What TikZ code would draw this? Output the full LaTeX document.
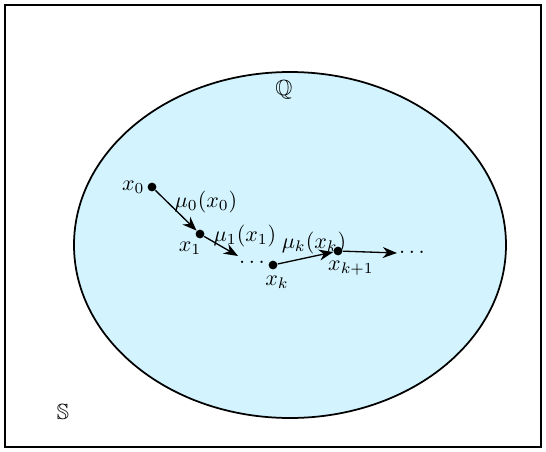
\documentclass[tikz,border=0pt]{standalone}
\usepackage{amssymb}
\usepackage{tikz}
\usetikzlibrary{arrows.meta}
\definecolor{setFill}{HTML}{D3F4FE}

\begin{document}
\begin{tikzpicture}[
    x=0.016cm, y=-0.016cm,
    iterpt/.style={circle, fill=black, inner sep=0pt, minimum size=4pt},
    iterlbl/.style={inner sep=1pt},
    step arr/.style={-{Stealth[length=6.5pt,width=5pt]}, semithick},
]
\useasboundingbox (0,0) rectangle (546,452);

%% outer space S
\draw[thick] (5,5) rectangle (541,447);
\node (S) at (63,412) {$\mathbb{S}$};

%% feasible set Q
\draw[thick, fill=setFill] (290,245) ellipse [x radius=216, y radius=173];
\node (Q) at (284,90) {$\mathbb{Q}$};

%% iterates
\node[iterpt] (p0) at (152,187) {};
\node[iterpt] (p1) at (200,234) {};
\node[iterpt] (pk) at (273,265) {};
\node[iterpt] (pk1) at (338,251) {};
\coordinate (e1) at (238,256);
\coordinate (e2) at (397,253);
\node[iterlbl] (d1) at (252,262) {$\dots$};
\node[iterlbl] (d2) at (412,252) {$\dots$};

%% labels
\node[iterlbl, left] (l0) at (p0.west) {$x_0$};
\node[iterlbl] (l1) at (190,248) {$x_1$};
\node[iterlbl] (lk) at (277,282) {$x_k$};
\node[iterlbl] (lk1) at (351,268) {$x_{k+1}$};
\node[iterlbl] (m0) at (206,202) {$\mu_0(x_0)$};
\node[iterlbl] (m1) at (245,236) {$\mu_1(x_1)$};
\node[iterlbl] (mk) at (314,243) {$\mu_k(x_k)$};

%% steps
\draw[step arr] (p0) -- (p1);
\draw[step arr] (p1) -- (e1);
\draw[step arr] (pk) -- (pk1);
\draw[step arr] (pk1) -- (e2);

\end{tikzpicture}
\end{document}
